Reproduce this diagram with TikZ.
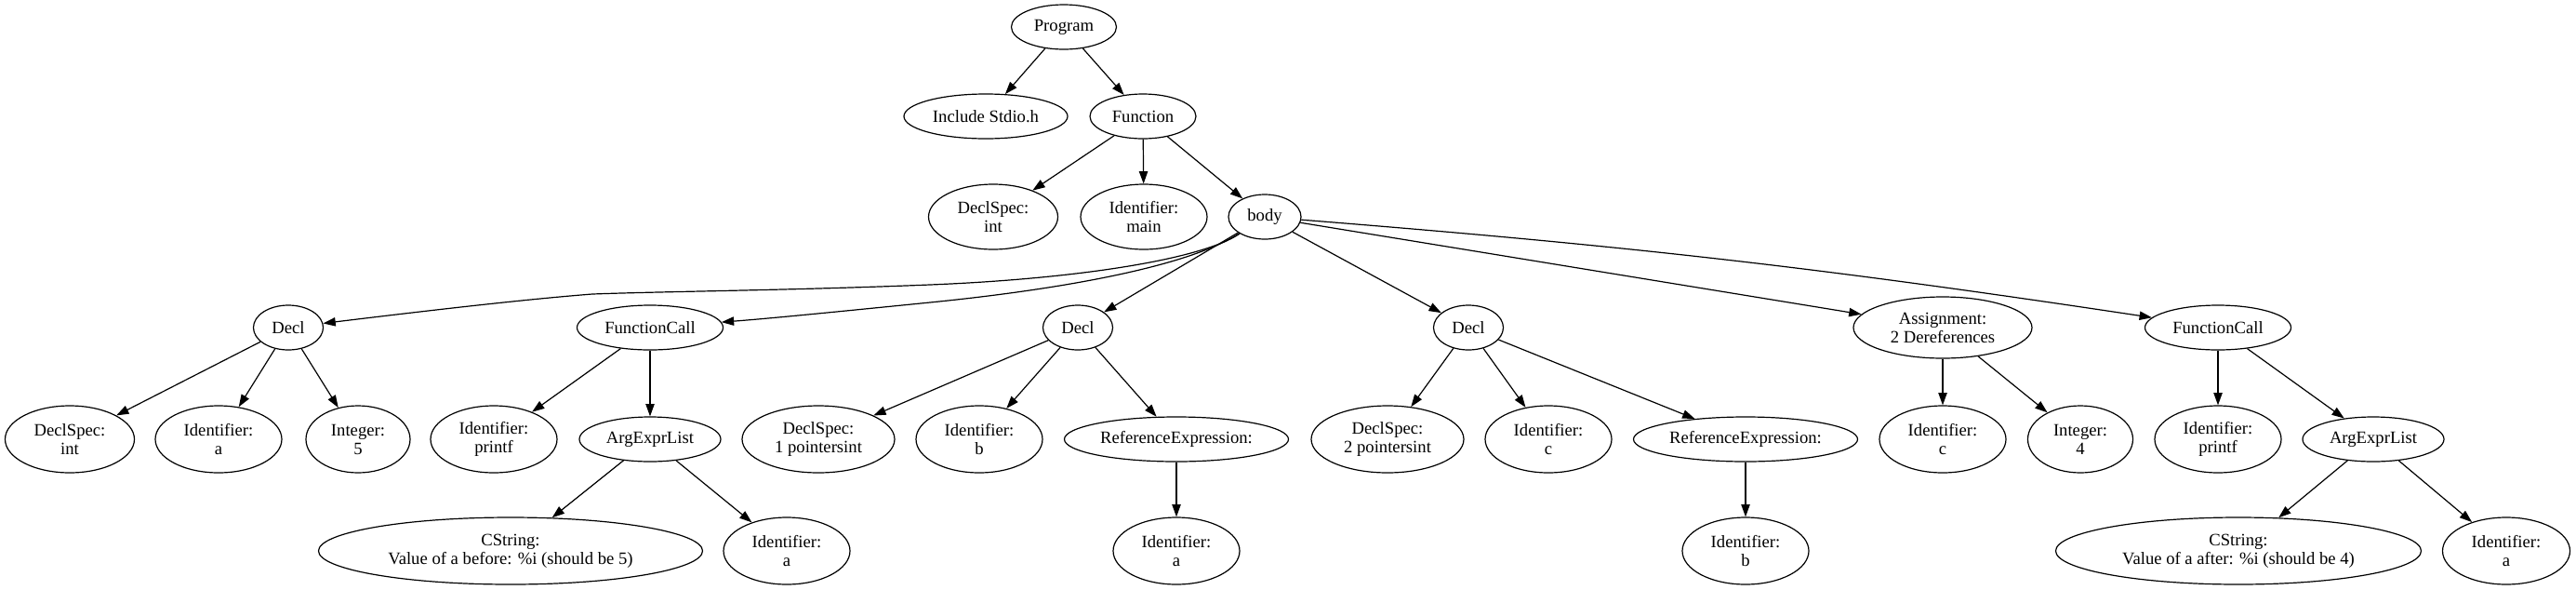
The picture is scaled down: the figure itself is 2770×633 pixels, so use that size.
\documentclass[tikz,border=0pt]{standalone}
\usepackage{fontspec}
\setmainfont{Liberation Serif}
\usetikzlibrary{shapes.geometric,arrows.meta}
\tikzset{
  nd/.style n args={2}{ellipse, draw, line width=0.9pt, minimum width=#1*0.75pt, minimum height=#2*0.75pt, inner sep=0pt, align=center, font=\fontsize{14pt}{15pt}\selectfont},
  arr/.style={draw, line width=0.9pt, -{Triangle[length=10pt,width=7pt]}}
}
\begin{document}
\begin{tikzpicture}[x=0.75pt,y=-0.75pt]
\useasboundingbox (0,0) rectangle (2770,633);
% rank 1-3
\node[nd={113}{48}] (prog) at (1144,29) {Program};
\node[nd={176}{48}] (incl) at (1060,125) {Include Stdio.h};
\node[nd={114}{48}] (func) at (1229,125) {Function};
\node[nd={139}{70}] (dsint) at (1068,233) {DeclSpec:\\int};
\node[nd={136}{70}] (idmain) at (1230,233) {Identifier:\\main};
\node[nd={78}{48}] (body) at (1360,233) {body};
% rank 4
\node[nd={75}{48}] (decl1) at (310,352) {Decl};
\node[nd={157}{48}] (fc1) at (699,352) {FunctionCall};
\node[nd={75}{48}] (decl2) at (1159,352) {Decl};
\node[nd={75}{48}] (decl3) at (1579,352) {Decl};
\node[nd={192}{66}] (assign) at (2089,352) {Assignment:\\2 Dereferences};
\node[nd={157}{48}] (fc2) at (2385,352) {FunctionCall};
% rank 5
\node[nd={139}{72}] (ds1) at (75,472) {DeclSpec:\\int};
\node[nd={136}{72}] (ida) at (235,472) {Identifier:\\a};
\node[nd={112}{72}] (int5) at (385,472) {Integer:\\5};
\node[nd={136}{72}] (idpf1) at (531,472) {Identifier:\\printf};
\node[nd={152}{48}] (ael1) at (699,472) {ArgExprList};
\node[nd={164}{72}] (ds2) at (880,472) {DeclSpec:\\1 pointersint};
\node[nd={136}{72}] (idb) at (1053,472) {Identifier:\\b};
\node[nd={241}{48}] (ref1) at (1265,472) {ReferenceExpression:};
\node[nd={164}{72}] (ds3) at (1492,472) {DeclSpec:\\2 pointersint};
\node[nd={136}{72}] (idc) at (1665,472) {Identifier:\\c};
\node[nd={241}{48}] (ref2) at (1877,472) {ReferenceExpression:};
\node[nd={136}{72}] (idc2) at (2089,472) {Identifier:\\c};
\node[nd={113}{72}] (int4) at (2237,472) {Integer:\\4};
\node[nd={136}{72}] (idpf2) at (2385,472) {Identifier:\\printf};
\node[nd={152}{48}] (ael2) at (2552,472) {ArgExprList};
% rank 6
\node[nd={413}{72}] (cs1) at (549,592) {CString:\\Value of a before: \%i (should be 5)};
\node[nd={136}{72}] (ida2) at (846,592) {Identifier:\\a};
\node[nd={136}{72}] (ida3) at (1265,592) {Identifier:\\a};
\node[nd={136}{72}] (idb2) at (1877,592) {Identifier:\\b};
\node[nd={393}{72}] (cs2) at (2407,592) {CString:\\Value of a after: \%i (should be 4)};
\node[nd={137}{72}] (ida4) at (2695,592) {Identifier:\\a};
% edges
\draw[arr] (prog) -- (incl);
\draw[arr] (prog) -- (func);
\draw[arr] (func) -- (dsint);
\draw[arr] (func) -- (idmain);
\draw[arr] (func) -- (body);
\draw[arr] (body) .. controls (1290,280) and (1150,300) .. (1000,306) .. controls (850,312) and (720,313) .. (637,316) .. controls (560,322) and (450,335) .. (decl1);
\draw[arr] (body) .. controls (1280,285) and (1150,310) .. (1000,325) .. controls (900,335) and (830,342) .. (fc1);
\draw[arr] (body) -- (decl2);
\draw[arr] (body) -- (decl3);
\draw[arr] (body) -- (assign);
\draw[arr] (body) to[bend left=2] (fc2);
\draw[arr] (decl1) -- (ds1);
\draw[arr] (decl1) -- (ida);
\draw[arr] (decl1) -- (int5);
\draw[arr] (fc1) -- (idpf1);
\draw[arr] (fc1) -- (ael1);
\draw[arr] (ael1) -- (cs1);
\draw[arr] (ael1) -- (ida2);
\draw[arr] (decl2) -- (ds2);
\draw[arr] (decl2) -- (idb);
\draw[arr] (decl2) -- (ref1);
\draw[arr] (ref1) -- (ida3);
\draw[arr] (decl3) -- (ds3);
\draw[arr] (decl3) -- (idc);
\draw[arr] (decl3) -- (ref2);
\draw[arr] (ref2) -- (idb2);
\draw[arr] (assign) -- (idc2);
\draw[arr] (assign) -- (int4);
\draw[arr] (fc2) -- (idpf2);
\draw[arr] (fc2) -- (ael2);
\draw[arr] (ael2) -- (cs2);
\draw[arr] (ael2) -- (ida4);
\end{tikzpicture}
\end{document}
